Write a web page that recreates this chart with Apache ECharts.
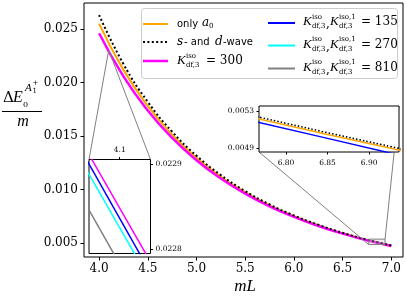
<!DOCTYPE html>
<html><head><meta charset="utf-8">
<script src="https://cdn.jsdelivr.net/npm/echarts@6/dist/echarts.min.js"></script>
<style>html,body{margin:0;padding:0;background:#fff}#c{width:407px;height:298px}</style>
</head><body><div id="c"></div>
<script>
// ---- main curves ----
const L = [4.0, 4.25, 4.5, 4.75, 5.0, 5.25, 5.5, 5.75, 6.0, 6.25, 6.5, 6.75, 7.0];
const onlyA0 = [0.02550, 0.02118, 0.01781, 0.01512, 0.01296, 0.01119, 0.00974, 0.00852, 0.00751, 0.00665, 0.00591, 0.00528, 0.00475];
const sdWave = [0.02630, 0.02173, 0.01819, 0.01540, 0.01316, 0.01134, 0.00985, 0.00860, 0.00757, 0.00670, 0.00595, 0.00531, 0.00477];
const kIso300 = [0.02460, 0.02057, 0.01738, 0.01482, 0.01274, 0.01103, 0.00962, 0.00843, 0.00744, 0.00660, 0.00587, 0.00525, 0.00472];
const xTicks = [4.0, 4.5, 5.0, 5.5, 6.0, 6.5, 7.0];
const yTicks = [0.005, 0.010, 0.015, 0.020, 0.025];

// ---- inset 1 (near mL = 4.1) ----
const in1L = [4.096, 4.104];
const in1K300 = [0.022915, 0.022781];
const in1K135 = [0.022904, 0.022768];
const in1K270 = [0.022892, 0.022758];
const in1K810 = [0.022850, 0.022715];
const in1XTicks = [4.1];
const in1YTicks = [0.0228, 0.0229];
const in1XRange = [4.09625, 4.10375];
const in1YRange = [0.022795, 0.022905];

// ---- inset 2 (near mL = 6.85) ----
const in2L = [6.765, 6.85, 6.94];
const in2sd = [0.005245, 0.005070, 0.004892];
const in2a0 = [0.005225, 0.005050, 0.004872];
const in2K135 = [0.005185, 0.005008, 0.004818];
const in2XTicks = [6.80, 6.85, 6.90];
const in2YTicks = [0.0049, 0.0053];
const in2XRange = [6.7675, 6.936];
const in2YRange = [0.00486, 0.00536];

const zip = (a, b) => a.map((v, i) => [v, b[i]]);
const C = {orange: '#FFA500', black: '#000000', magenta: '#FF00FF', blue: '#0000FF', cyan: '#00FFFF', gray: '#808080'};
const SERIF = 'DejaVu Serif';

function axis(common) {
  return Object.assign({
    type: 'value', scale: true, splitLine: {show: false},
    axisLine: {show: false},
    axisTick: {show: true, inside: false, length: 3.5, lineStyle: {color: '#000', width: 1}},
    axisLabel: {color: '#000', fontFamily: SERIF, fontSize: 12}
  }, common);
}

const chart = echarts.init(document.getElementById('c'), null, {renderer: 'canvas'});

const option = {
  animation: false,
  backgroundColor: '#fff',
  grid: [
    {left: 84, top: 3, width: 319, height: 254, show: true, borderColor: '#000', borderWidth: 1, backgroundColor: 'transparent', z: 0},
    {left: 89, top: 159.5, width: 61.5, height: 94, show: true, borderColor: '#000', borderWidth: 1, backgroundColor: '#fff', z: 10},
    {left: 259, top: 106, width: 140, height: 46, show: true, borderColor: '#000', borderWidth: 1, backgroundColor: '#fff', z: 10}
  ],
  xAxis: [
    axis({gridIndex: 0, min: 3.845, max: 7.12,
      axisTick: {show: true, length: 3.5, lineStyle: {color: '#000'}, customValues: xTicks},
      axisLabel: {color: '#000', fontFamily: SERIF, fontSize: 12, margin: 6, customValues: xTicks, formatter: v => v.toFixed(1)}}),
    axis({gridIndex: 1, position: 'top', min: in1XRange[0], max: in1XRange[1], z: 12,
      axisTick: {show: true, length: 2.5, lineStyle: {color: '#000'}, customValues: in1XTicks},
      axisLabel: {color: '#000', fontFamily: SERIF, fontSize: 7.5, margin: 5, customValues: in1XTicks, formatter: v => v.toFixed(1)}}),
    axis({gridIndex: 2, min: in2XRange[0], max: in2XRange[1], z: 12,
      axisTick: {show: true, length: 2.5, lineStyle: {color: '#000'}, customValues: in2XTicks},
      axisLabel: {color: '#000', fontFamily: SERIF, fontSize: 7.5, margin: 7, customValues: in2XTicks, formatter: v => v.toFixed(2)}})
  ],
  yAxis: [
    axis({gridIndex: 0, min: 0.00369, max: 0.02743,
      axisTick: {show: true, length: 3.5, lineStyle: {color: '#000'}, customValues: yTicks},
      axisLabel: {color: '#000', fontFamily: SERIF, fontSize: 12, margin: 6, customValues: yTicks, formatter: v => v.toFixed(3)}}),
    axis({gridIndex: 1, position: 'right', min: in1YRange[0], max: in1YRange[1], z: 12,
      axisTick: {show: true, length: 2.5, lineStyle: {color: '#000'}, customValues: in1YTicks},
      axisLabel: {color: '#000', fontFamily: SERIF, fontSize: 7.5, margin: 5, customValues: in1YTicks, formatter: v => v.toFixed(4)}}),
    axis({gridIndex: 2, min: in2YRange[0], max: in2YRange[1], z: 12,
      axisTick: {show: true, length: 2.5, lineStyle: {color: '#000'}, customValues: in2YTicks},
      axisLabel: {color: '#000', fontFamily: SERIF, fontSize: 7.5, margin: 5, customValues: in2YTicks, formatter: v => v.toFixed(4)}})
  ],
  series: [
    {type: 'line', xAxisIndex: 0, yAxisIndex: 0, data: zip(L, onlyA0), smooth: true, showSymbol: false, z: 2,
      lineStyle: {color: C.orange, width: 2}},
    {type: 'line', xAxisIndex: 0, yAxisIndex: 0, data: zip(L, kIso300), smooth: true, showSymbol: false, z: 2,
      lineStyle: {color: C.magenta, width: 2.5}},
    {type: 'line', xAxisIndex: 0, yAxisIndex: 0, data: zip(L, sdWave), smooth: true, showSymbol: false, z: 3,
      lineStyle: {color: C.black, width: 2, type: [2, 2.4], cap: 'butt'}},

    {type: 'line', xAxisIndex: 1, yAxisIndex: 1, data: zip(in1L, in1K810), showSymbol: false, z: 12, clip: true,
      lineStyle: {color: C.gray, width: 1.5}},
    {type: 'line', xAxisIndex: 1, yAxisIndex: 1, data: zip(in1L, in1K270), showSymbol: false, z: 12, clip: true,
      lineStyle: {color: C.cyan, width: 1.5}},
    {type: 'line', xAxisIndex: 1, yAxisIndex: 1, data: zip(in1L, in1K135), showSymbol: false, z: 12, clip: true,
      lineStyle: {color: C.blue, width: 1.5}},
    {type: 'line', xAxisIndex: 1, yAxisIndex: 1, data: zip(in1L, in1K300), showSymbol: false, z: 12, clip: true,
      lineStyle: {color: C.magenta, width: 1.5}},

    {type: 'line', xAxisIndex: 2, yAxisIndex: 2, data: zip(in2L, in2K135), smooth: true, showSymbol: false, z: 12, clip: true,
      lineStyle: {color: C.blue, width: 1.5}},
    {type: 'line', xAxisIndex: 2, yAxisIndex: 2, data: zip(in2L, in2a0), smooth: true, showSymbol: false, z: 12, clip: true,
      lineStyle: {color: C.orange, width: 1.5}},
    {type: 'line', xAxisIndex: 2, yAxisIndex: 2, data: zip(in2L, in2sd), smooth: true, showSymbol: false, z: 12, clip: true,
      lineStyle: {color: C.black, width: 1.5, type: [1.5, 2], cap: 'butt'}}
  ]
};
chart.setOption(option);

// ---- inset markers & connectors ----
const px = (gi, p) => chart.convertToPixel({xAxisIndex: gi, yAxisIndex: gi}, p);
const els = [];
function line(a, b, z, color, w) {
  els.push({type: 'line', z: z, silent: true, shape: {x1: a[0], y1: a[1], x2: b[0], y2: b[1]}, style: {stroke: color || '#808080', lineWidth: w || 1}});
}
const r1tl = px(0, [in1XRange[0], in1YRange[1]]), r1br = px(0, [in1XRange[1], in1YRange[0]]);
els.push({type: 'rect', z: 5, silent: true, shape: {x: r1tl[0], y: r1tl[1], width: r1br[0] - r1tl[0], height: r1br[1] - r1tl[1]}, style: {fill: 'none', stroke: '#808080', lineWidth: 1}});
const i1tl = px(1, [in1XRange[0], in1YRange[1]]), i1tr = px(1, [in1XRange[1], in1YRange[1]]);
line(i1tl, r1tl, 5);
line(i1tr, [r1br[0], r1tl[1]], 5);
const r2tl = px(0, [in2XRange[0], in2YRange[1]]), r2br = px(0, [in2XRange[1], in2YRange[0]]);
els.push({type: 'rect', z: 5, silent: true, shape: {x: r2tl[0], y: r2tl[1], width: r2br[0] - r2tl[0], height: r2br[1] - r2tl[1]}, style: {fill: 'rgba(200,200,200,0.3)', stroke: '#808080', lineWidth: 1}});
const i2tr = px(2, [in2XRange[1], in2YRange[1]]), i2bl = px(2, [in2XRange[0], in2YRange[0]]);
line(i2tr, [r2br[0], r2tl[1]], 5);
line(i2bl, [r2tl[0], r2br[1]], 5);

// ---- legend (drawn manually for math layout) ----
const LZ = 30;
els.push({type: 'rect', z: LZ, silent: true, shape: {x: 141.5, y: 8.5, width: 256, height: 70, r: 3}, style: {fill: 'rgba(255,255,255,0.85)', stroke: '#cccccc', lineWidth: 1}});
function sample(x1, x2, y, color, w, dash) {
  els.push({type: 'line', z: LZ + 1, silent: true, shape: {x1: x1, y1: y, x2: x2, y2: y}, style: {stroke: color, lineWidth: w, lineDash: dash || null}});
}
function txt(x, y, s, font, align) {
  els.push({type: 'text', z: LZ + 1, silent: true, style: {x: x, y: y, text: s, font: font, fill: '#000', textAlign: align || 'left', textVerticalAlign: 'middle'}});
}
const fSans = '10px "DejaVu Sans"';
const fItal = 'italic 12px "DejaVu Serif"';
const fK = 'italic 13px "Liberation Serif"';
const fSm = '7px "DejaVu Serif"';
const fNum = '12px "DejaVu Serif"';
function kSym(x, y, sup) {
  txt(x, y, 'K', fK);
  txt(x + 9, y - 5, sup, fSm);
  txt(x + 9, y + 4.5, 'df,3', fSm);
}
sample(143, 168, 24, C.orange, 2);
txt(177, 24, 'only', fSans); txt(202, 23, 'a', fItal); txt(209, 26.5, '0', fSm);
sample(143, 168, 42, C.black, 2, [2, 2.4]);
txt(177, 42, 's', fItal); txt(184, 42, '- and', fSans); txt(215, 42, 'd', fItal); txt(223, 42, '-wave', fSans);
sample(143, 168, 61, C.magenta, 2.5);
kSym(177, 61, 'iso'); txt(206, 61, '= 300', fNum);
const col2 = [[23, C.blue, '135'], [45.5, C.cyan, '270'], [68.5, C.gray, '810']];
col2.forEach(([y, c, v]) => {
  sample(268, 295, y, c, 2);
  kSym(303, y - 1, 'iso'); txt(326, y + 1, ',', fNum);
  kSym(330, y - 1, 'iso,1'); txt(361, y - 1, '= ' + v, fNum);
});

// ---- axis titles ----
function t(x, y, s, font, align) {
  els.push({type: 'text', z: 20, silent: true, style: {x: x, y: y, text: s, font: font, fill: '#000', textAlign: align || 'left', textVerticalAlign: 'middle'}});
}
t(3, 98, 'Δ', '15px "DejaVu Serif"');
t(13, 98, 'E', 'italic 16px "Liberation Serif"');
t(23, 105, '0', '8px "DejaVu Serif"');
t(25, 88, 'A', 'italic 11px "Liberation Serif"');
t(32.5, 91.5, '1', '7px "DejaVu Serif"');
t(32.5, 83.5, '+', '7px "DejaVu Serif"');
els.push({type: 'line', z: 20, silent: true, shape: {x1: 2, y1: 111.5, x2: 42, y2: 111.5}, style: {stroke: '#000', lineWidth: 1}});
t(23, 122, 'm', 'italic 16px "Liberation Serif"', 'center');
t(245, 287, 'mL', 'italic 17px "Liberation Serif"', 'center');

chart.setOption({graphic: {elements: els}});
</script>
</body></html>
